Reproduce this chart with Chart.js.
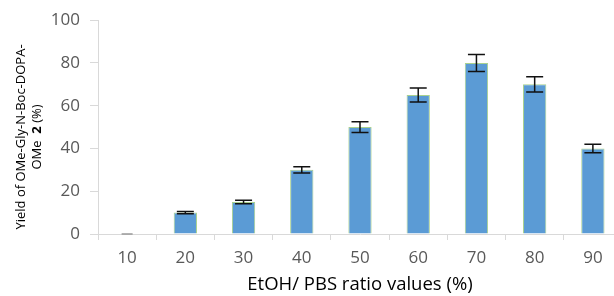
<!DOCTYPE html>
<html><head><meta charset="utf-8">
<script src="https://cdn.jsdelivr.net/npm/chart.js@4/dist/chart.umd.min.js"></script>
<style>html,body{margin:0;padding:0;overflow:hidden;background:#fff;width:614px;height:296px}#w{width:630px;height:296px}</style>
</head><body><div id="w"><canvas id="c" width="630" height="296"></canvas></div>
<script>
const categories = ["10","20","30","40","50","60","70","80","90"];
const yieldValues = [0, 10, 15, 30, 50, 65, 80, 70, 40];
const errorValues = [0, 0.5, 0.8, 1.5, 2.5, 3.3, 4, 3.6, 2];
const yTicks = [0, 20, 40, 60, 80, 100];

const FONT = "'Open Sans', sans-serif";

const errorBars = {
  id: 'errorBars',
  afterDatasetsDraw(chart) {
    const ctx = chart.ctx, meta = chart.getDatasetMeta(0), y = chart.scales.y;
    ctx.save();
    ctx.lineWidth = 1.5;
    meta.data.forEach((bar, i) => {
      const v = yieldValues[i], e = errorValues[i];
      const yt = y.getPixelForValue(v + e), yb = y.getPixelForValue(v - e);
      const x = bar.x, hw = i === 0 ? 5.5 : 8.5;
      ctx.strokeStyle = i === 0 ? '#999' : '#111';
      ctx.beginPath();
      ctx.moveTo(x, yt); ctx.lineTo(x, yb);
      ctx.moveTo(x - hw, yt); ctx.lineTo(x + hw, yt);
      ctx.moveTo(x - hw, yb); ctx.lineTo(x + hw, yb);
      ctx.stroke();
    });
    ctx.restore();
  }
};

const yTitle = {
  id: 'yTitle',
  afterDraw(chart) {
    const ctx = chart.ctx;
    const F = "13px " + FONT, FB = "bold 13px " + FONT;
    ctx.save();
    ctx.fillStyle = '#000';
    ctx.textAlign = 'center';
    ctx.textBaseline = 'middle';
    ctx.translate(21, 137);
    ctx.rotate(-Math.PI / 2);
    ctx.font = F;
    ctx.fillText("Yield of OMe-Gly-N-Boc-DOPA-", 0, 0);
    const a = "OMe  ", b = "2", c = " (%)";
    ctx.font = F; const wa = ctx.measureText(a).width, wc = ctx.measureText(c).width;
    ctx.font = FB; const wb = ctx.measureText(b).width;
    let x0 = -(wa + wb + wc) / 2;
    ctx.textAlign = 'left';
    ctx.font = F; ctx.fillText(a, x0, 16);
    ctx.font = FB; ctx.fillText(b, x0 + wa, 16);
    ctx.font = F; ctx.fillText(c, x0 + wa + wb, 16);
    ctx.restore();
  }
};

new Chart(document.getElementById('c'), {
  type: 'bar',
  data: {
    labels: categories,
    datasets: [{
      data: yieldValues,
      backgroundColor: '#5B9BD5',
      borderColor: '#A9D18E',
      borderWidth: 1,
      barPercentage: 0.4,
      categoryPercentage: 1.0
    }]
  },
  options: {
    responsive: false,
    animation: false,
    layout: { padding: { top: 18, right: 8, bottom: 0, left: 0 } },
    plugins: { legend: { display: false }, tooltip: { enabled: false } },
    scales: {
      x: {
        offset: true,
        grid: { display: true, offset: true, drawOnChartArea: false, color: '#D9D9D9', tickLength: 6 },
        border: { color: '#D9D9D9', width: 1 },
        ticks: { color: '#595959', font: { family: FONT, size: 17 }, padding: 8, maxRotation: 0 },
        title: { display: true, text: 'EtOH/ PBS ratio values (%)', color: '#000', font: { family: FONT, size: 18.5 }, padding: { top: 0, bottom: 0 } },
        afterFit(s) { s.height = 62; }
      },
      y: {
        min: 0, max: 100,
        afterBuildTicks(s) { s.ticks = yTicks.map(v => ({ value: v })); },
        grid: { display: true, drawOnChartArea: false, color: '#D9D9D9', tickLength: 8 },
        border: { color: '#D9D9D9', width: 1 },
        ticks: { color: '#595959', font: { family: FONT, size: 17 }, padding: 10 },
        afterFit(s) { s.width = 98; }
      }
    }
  },
  plugins: [errorBars, yTitle]
});
</script>
</body></html>
